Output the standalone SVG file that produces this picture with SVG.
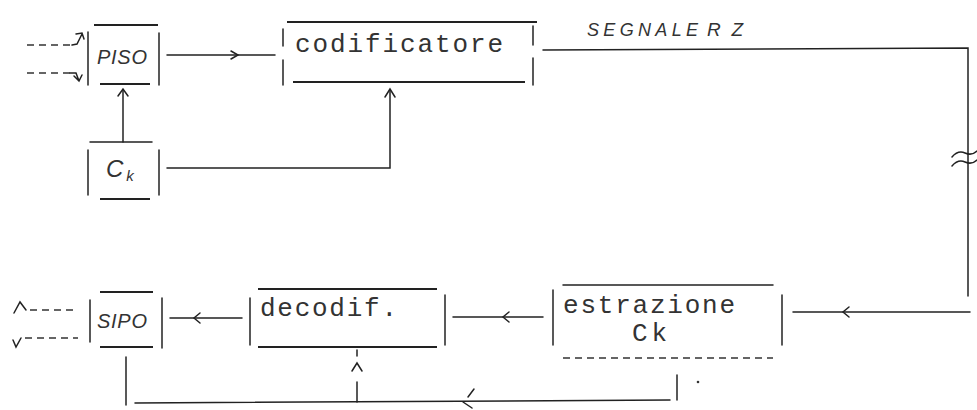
<svg xmlns="http://www.w3.org/2000/svg" width="977" height="410" viewBox="0 0 977 410">
<style>
.s{stroke:#222;stroke-width:1.5;fill:none;stroke-linecap:round}
.t{stroke:#222;stroke-width:2;fill:none}
.d{stroke:#333;stroke-width:1.5;fill:none;stroke-dasharray:7,5}
.mono{font-family:"Liberation Mono","DejaVu Sans Mono",monospace;font-size:26px;fill:#333}
.hand{font-family:"Liberation Sans",Arial,sans-serif;font-style:italic;fill:#333}
</style>
<rect width="977" height="410" fill="#fff"/>

<g id="piso">
<line class="t" x1="94" y1="25" x2="158" y2="25"/>
<line class="s" x1="88" y1="32" x2="88" y2="85"/>
<line class="s" x1="159" y1="33" x2="159" y2="85"/>
<line class="t" x1="100" y1="84" x2="150" y2="84"/>
<text class="hand" x="122" y="64" font-size="20" text-anchor="middle" textLength="50" lengthAdjust="spacing">PISO</text>
</g>

<g id="ck">
<line class="s" x1="90" y1="142" x2="152" y2="142"/>
<line class="s" x1="88" y1="150" x2="88" y2="195"/>
<line class="s" x1="159" y1="150" x2="159" y2="195"/>
<line class="t" x1="100" y1="199" x2="150" y2="199"/>
<text class="hand" x="106" y="177" font-size="24">C<tspan font-size="15" dx="3" dy="4">k</tspan></text>
</g>

<g id="codificatore">
<line class="t" x1="287" y1="22" x2="537" y2="22"/>
<line class="s" x1="283" y1="29" x2="283" y2="46"/>
<line class="s" x1="283" y1="60" x2="283" y2="85"/>
<line class="s" x1="533" y1="26" x2="533" y2="45"/>
<line class="s" x1="533" y1="58" x2="533" y2="85"/>
<line class="t" x1="293" y1="82" x2="525" y2="82"/>
<text class="mono" x="295" y="52" textLength="208" lengthAdjust="spacing">codificatore</text>
</g>

<g id="estrazione">
<line class="s" x1="563" y1="285" x2="773" y2="285"/>
<line class="s" x1="553" y1="290" x2="553" y2="345"/>
<line class="s" x1="782" y1="295" x2="782" y2="345"/>
<line class="d" x1="563" y1="358" x2="773" y2="358"/>
<text class="mono" x="563" y="313" textLength="172" lengthAdjust="spacing">estrazione</text>
<text class="mono" x="632" y="341" textLength="35" lengthAdjust="spacing">Ck</text>
</g>

<g id="decodif">
<line class="t" x1="258" y1="289" x2="437" y2="289"/>
<line class="s" x1="250" y1="298" x2="250" y2="345"/>
<line class="s" x1="445" y1="295" x2="445" y2="345"/>
<line class="t" x1="258" y1="347" x2="437" y2="347"/>
<text class="mono" x="260" y="316" textLength="137" lengthAdjust="spacing">decodif.</text>
</g>

<g id="sipo">
<line class="t" x1="100" y1="292" x2="153" y2="292"/>
<line class="s" x1="90" y1="300" x2="90" y2="342"/>
<line class="s" x1="162" y1="298" x2="162" y2="348"/>
<line class="t" x1="100" y1="347" x2="153" y2="347"/>
<text class="hand" x="122" y="328" font-size="20" text-anchor="middle" textLength="50" lengthAdjust="spacing">SIPO</text>
</g>

<text class="hand" x="587" y="36" font-size="18" textLength="111" lengthAdjust="spacing">SEGNALE</text>
<text class="hand" x="707" y="36" font-size="19" textLength="36" lengthAdjust="spacing">RZ</text>

<g id="connectors">
<!-- inputs to PISO -->
<line class="d" x1="27" y1="45" x2="72" y2="45"/>
<path class="s" d="M72,45 L77,44 L82,34 M76,34 L82,33 L84,39"/>
<line class="d" x1="27" y1="73" x2="70" y2="73"/>
<path class="s" d="M70,73 L76,73 L79,81 M74,76 L79,81 L82,75"/>
<!-- PISO to codificatore -->
<line class="s" x1="167" y1="55" x2="275" y2="55"/>
<path class="s" d="M231,51 L238,55 L231,59"/>
<!-- Ck to PISO -->
<line class="s" x1="123" y1="142" x2="123" y2="90"/>
<path class="s" d="M118,96 L123,89 L128,96"/>
<!-- Ck to codificatore -->
<path class="s" d="M167,168 L390,168 L390,90"/>
<path class="s" d="M385,97 L390,89 L395,97"/>
<!-- codificatore out, channel -->
<path class="s" d="M543,50 L968,48 L968,296"/>
<path class="s" d="M952,157 Q958,150 965,153 T977,151 M952,166 Q958,159 965,162 T977,160"/>
<line class="s" x1="793" y1="312" x2="970" y2="312"/>
<path class="s" d="M849,307 L843,312 L849,317"/>
<!-- estrazione to decodif -->
<line class="s" x1="453" y1="317" x2="543" y2="317"/>
<path class="s" d="M509,312 L503,317 L509,322"/>
<!-- decodif to SIPO -->
<line class="s" x1="170" y1="318" x2="242" y2="318"/>
<path class="s" d="M200,313 L194,318 L200,323"/>
<!-- SIPO outputs -->
<line class="d" x1="30" y1="310" x2="78" y2="310"/>
<path class="s" d="M14,313 L20,302 L26,310"/>
<line class="d" x1="25" y1="338" x2="78" y2="338"/>
<path class="s" d="M13,340 L16,347 L21,338"/>
<!-- clock feedback -->
<path class="s" d="M126,357 L126,405"/>
<path class="s" d="M135,403 L670,400"/>
<line class="s" x1="677" y1="375" x2="677" y2="400"/>
<path class="s" d="M474,389 L468,397 M463,402 L472,408"/>
<line class="s" x1="357" y1="350" x2="357" y2="356"/>
<line class="s" x1="357" y1="382" x2="357" y2="402"/>
<path class="s" d="M352,371 L357,363 L362,371"/>
<circle cx="698" cy="382" r="1.3" fill="#333"/>
</g>
</svg>
